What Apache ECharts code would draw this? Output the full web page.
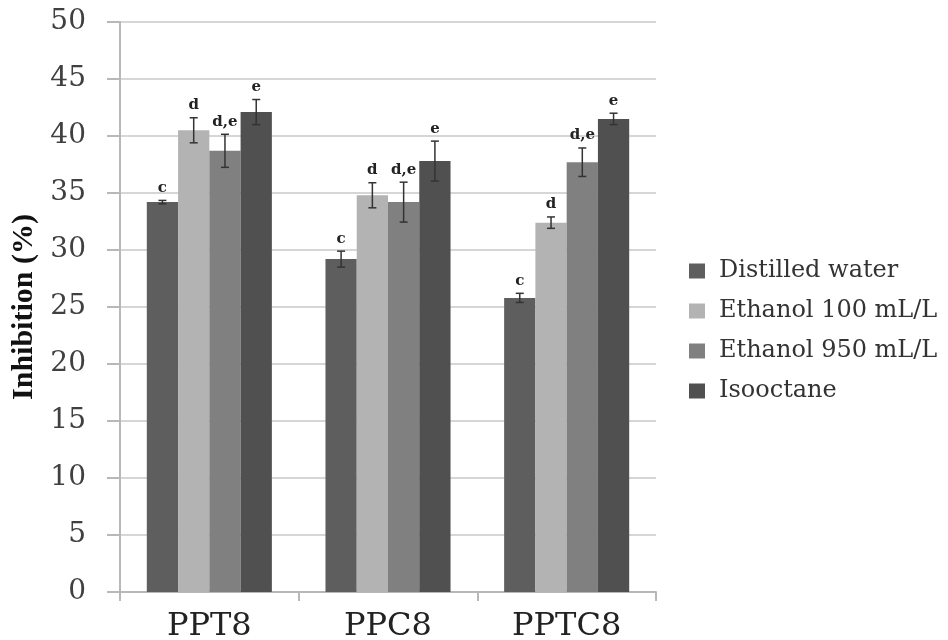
<!DOCTYPE html>
<html>
<head>
<meta charset="utf-8">
<script src="https://cdn.jsdelivr.net/npm/echarts@6/dist/echarts.min.js"></script>
<style>
html,body{margin:0;padding:0;background:#fff;}
#chart{width:948px;height:640px;}
</style>
</head>
<body>
<div id="chart"></div>
<script>
var categories = ['PPT8', 'PPC8', 'PPTC8'];
var seriesNames = ['Distilled water', 'Ethanol 100 mL/L', 'Ethanol 950 mL/L', 'Isooctane'];
var distilledWater = [34.2, 29.2, 25.8];
var ethanol100 = [40.5, 34.8, 32.4];
var ethanol950 = [38.7, 34.2, 37.7];
var isooctane = [42.1, 37.8, 41.5];
var errDistilledWater = [0.15, 0.7, 0.4];
var errEthanol100 = [1.1, 1.1, 0.5];
var errEthanol950 = [1.45, 1.75, 1.25];
var errIsooctane = [1.1, 1.75, 0.5];
var sigLetters = ['c', 'd', 'd,e', 'e'];
var yTicks = [0, 5, 10, 15, 20, 25, 30, 35, 40, 45, 50];

var values = [distilledWater, ethanol100, ethanol950, isooctane];
var errors = [errDistilledWater, errEthanol100, errEthanol950, errIsooctane];
var colors = ['#5e5e5e', '#b3b3b3', '#808080', '#505050'];
var CAT_GAP = 0.30;

function makeRender(i) {
  return function (params, api) {
    var cat = api.value(0), v = api.value(1), e = api.value(2);
    var band = api.size([1, 0])[0];
    var groupW = band * (1 - CAT_GAP);
    var bw = groupW / values.length;
    var cx = api.coord([cat, v])[0] - groupW / 2 + bw * (i + 0.5);
    var yTop = api.coord([cat, v + e])[1];
    var yBot = api.coord([cat, v - e])[1];
    var cap = 4;
    var st = { stroke: '#333333', lineWidth: 1.5 };
    return {
      type: 'group',
      children: [
        { type: 'line', shape: { x1: cx, y1: yTop, x2: cx, y2: yBot }, style: st },
        { type: 'line', shape: { x1: cx - cap, y1: yTop, x2: cx + cap, y2: yTop }, style: st },
        { type: 'line', shape: { x1: cx - cap, y1: yBot, x2: cx + cap, y2: yBot }, style: st },
        { type: 'text', style: { text: sigLetters[i], x: cx, y: yTop - 5, align: 'center', verticalAlign: 'bottom',
            font: 'bold 15px "DejaVu Serif"', fill: '#222222' } }
      ]
    };
  };
}

var series = [];
values.forEach(function (arr, i) {
  series.push({
    name: seriesNames[i], type: 'bar', data: arr,
    barGap: '0%', barCategoryGap: (CAT_GAP * 100) + '%',
    itemStyle: { color: colors[i] }
  });
});
values.forEach(function (arr, i) {
  series.push({
    type: 'custom', z: 5, silent: true,
    renderItem: makeRender(i),
    encode: { x: 0, y: 1 },
    data: arr.map(function (v, k) { return [k, v, errors[i][k]]; })
  });
});

var chart = echarts.init(document.getElementById('chart'), null, { renderer: 'canvas' });
chart.setOption({
  animation: false,
  backgroundColor: '#ffffff',
  grid: { left: 120, right: 292, top: 22, bottom: 48, containLabel: false, outerBoundsMode: 'none' },
  legend: {
    data: seriesNames, orient: 'vertical', left: 684, top: 254,
    itemWidth: 16, itemHeight: 15, itemGap: 16,
    icon: 'rect',
    textStyle: { fontFamily: 'DejaVu Serif', fontSize: 24, color: '#333333', padding: [0, 0, 0, 9] }
  },
  xAxis: {
    type: 'category', data: categories,
    axisLine: { lineStyle: { color: '#b8b8b8', width: 2 } },
    axisTick: { show: true, length: 9, lineStyle: { color: '#b8b8b8', width: 2 } },
    axisLabel: { fontFamily: 'DejaVu Serif', fontSize: 32, color: '#222222', margin: 19 }
  },
  yAxis: {
    type: 'value', min: yTicks[0], max: yTicks[yTicks.length - 1], interval: 5,
    name: 'Inhibition (%)', nameLocation: 'middle', nameGap: 72,
    nameTextStyle: { fontFamily: 'Liberation Serif', fontWeight: 'bold', fontSize: 30, color: '#111111' },
    axisLine: { show: true, lineStyle: { color: '#b8b8b8', width: 2 } },
    axisTick: { show: true, inside: false, length: 13, lineStyle: { color: '#b8b8b8', width: 2 } },
    axisLabel: { fontFamily: 'DejaVu Serif', fontSize: 28, color: '#404040', margin: 34 },
    splitLine: { show: true, lineStyle: { color: '#d6d6d6', width: 2 } }
  },
  series: series
});
</script>
</body>
</html>
